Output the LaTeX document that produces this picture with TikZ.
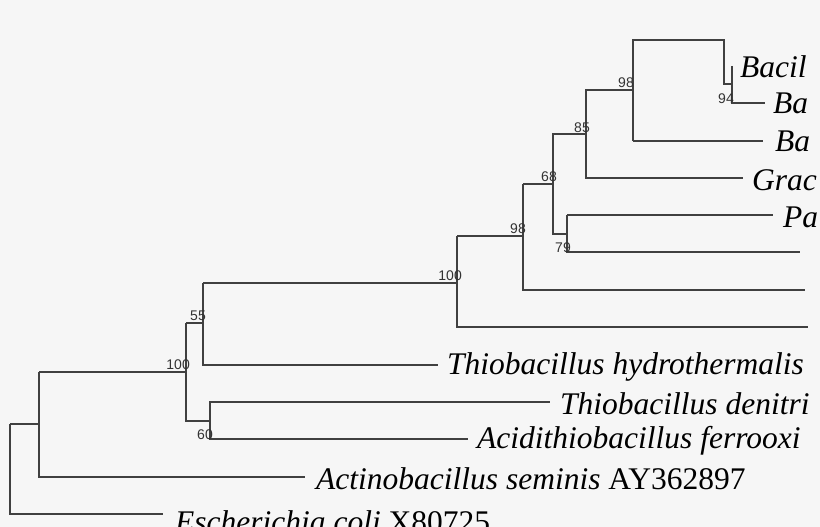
\documentclass[tikz,border=0pt]{standalone}
\usepackage{fontspec}
\setmainfont{Liberation Serif}
\newfontfamily\lblfont{Liberation Sans}
\begin{document}
\begin{tikzpicture}[x=1pt,y=-1pt,
  br/.style={draw=black!75,line width=1.4pt},
  leaf/.style={anchor=west,inner sep=0pt,font=\fontsize{31.5}{32}\selectfont\itshape},
  bs/.style={inner sep=0pt,font=\lblfont\fontsize{14}{14}\selectfont,text=black!80}]
\fill[black!3.5] (0,0) rectangle (820,527);
\useasboundingbox (0,0) rectangle (820,527);
\clip (0,0) rectangle (820,527);
% branches
\draw[br] (633,141) -- (633,40) -- (724,40) -- (724,84) -- (732,84);
\draw[br] (732,66) -- (732,103) -- (765,103);
\draw[br] (633,141) -- (763,141);
\draw[br] (586,134) -- (586,90) -- (633,90);
\draw[br] (586,134) -- (586,178) -- (743,178);
\draw[br] (553,184) -- (553,134) -- (586,134);
\draw[br] (553,184) -- (553,234) -- (567,234);
\draw[br] (567,215) -- (773,215);
\draw[br] (567,215) -- (567,252) -- (800,252);
\draw[br] (523,184) -- (553,184);
\draw[br] (523,236) -- (523,184);
\draw[br] (523,236) -- (523,290) -- (805,290);
\draw[br] (457,236) -- (523,236);
\draw[br] (457,283) -- (457,236);
\draw[br] (457,283) -- (457,327) -- (808,327);
\draw[br] (203,283) -- (457,283);
\draw[br] (203,323) -- (203,283);
\draw[br] (203,323) -- (203,365) -- (438,365);
\draw[br] (186,323) -- (203,323);
\draw[br] (186,372) -- (186,323);
\draw[br] (186,372) -- (186,421) -- (210,421);
\draw[br] (210,421) -- (210,402) -- (550,402);
\draw[br] (210,421) -- (210,439) -- (468,439);
\draw[br] (39,372) -- (186,372);
\draw[br] (39,424) -- (39,372);
\draw[br] (39,424) -- (39,477) -- (305,477);
\draw[br] (10,424) -- (39,424);
\draw[br] (10,424) -- (10,514) -- (163,514);
% bootstrap
\node[bs,anchor=south east] (b98a) at (634,88) {98};
\node[bs,anchor=north east] (b94) at (734,94) {94};
\node[bs,anchor=south east] (b85) at (590,133) {85};
\node[bs,anchor=south east] (b68) at (557,182) {68};
\node[bs,anchor=north east] (b79) at (571,243) {79};
\node[bs,anchor=south east] (b98b) at (526,234) {98};
\node[bs,anchor=south east] (b100a) at (462,281) {100};
\node[bs,anchor=south east] (b55) at (206,321) {55};
\node[bs,anchor=south east] (b100b) at (190,370) {100};
\node[bs,anchor=north east] (b60) at (213,430) {60};
% leaves
\node[leaf] (l1) at (740,67) {Bacil};
\node[leaf] (l2) at (773,103) {Ba};
\node[leaf] (l3) at (775,141) {Ba};
\node[leaf] (l4) at (752,180) {Grac};
\node[leaf] (l5) at (783,217) {Pa};
\node[leaf] (l7) at (447,367) {Thiobacillus hydrothermalis};
\node[leaf] (l8) at (560,404) {Thiobacillus denitri};
\node[leaf] (l9) at (477,441) {Acidithiobacillus ferrooxi};
\node[leaf] (l10) at (316,479) {Actinobacillus seminis \upshape AY362897};
\node[leaf] (l11) at (175,522) {Escherichia coli \upshape X80725};
\end{tikzpicture}
\end{document}
